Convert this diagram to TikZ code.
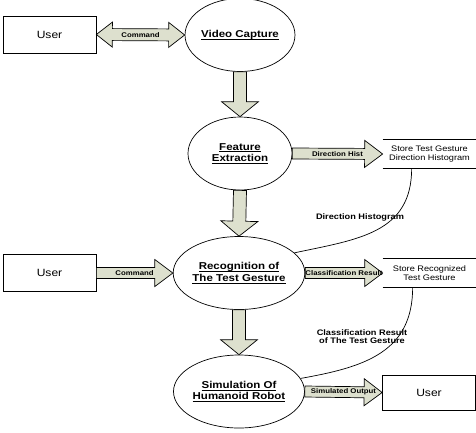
\documentclass[tikz,border=0pt]{standalone}
\usepackage{fontspec}
\setmainfont[FakeStretch=1.15,BoldFeatures={FakeStretch=1.15}]{Liberation Sans}
\usetikzlibrary{shapes.geometric,calc}

\definecolor{arrowfill}{RGB}{221,224,206}

% underline drawn as a rule, a bit heavier than \underline
\newcommand{\ulword}[1]{\setbox0\hbox{#1}\rlap{\rule[-2.2pt]{\wd0}{0.8pt}}\box0}

\tikzset{
	fat body/.initial=5.5,
	fat head/.initial=13.5,
	fat tip/.initial=18,
	wide head/.style={fat body=6.5,fat head=18.5,fat tip=15},
	fat arrow/.style={draw=black,fill=arrowfill,
		to path={let \p1=(\tikztostart),\p2=(\tikztotarget),
			\n1={veclen(\x2-\x1,\y2-\y1)},\n2={atan2(\y2-\y1,\x2-\x1)},
			\n3={\pgfkeysvalueof{/tikz/fat body}},\n4={\pgfkeysvalueof{/tikz/fat head}},
			\n5={\pgfkeysvalueof{/tikz/fat tip}} in
			{[shift={(\p1)},rotate=\n2]
			(0,\n3) -- ({\n1-\n5},\n3) -- ({\n1-\n5},\n4) -- (\n1,0)
			-- ({\n1-\n5},-\n4) -- ({\n1-\n5},-\n3) -- (0,-\n3) -- cycle}}},
	fat double/.style={draw=black,fill=arrowfill,
		to path={let \p1=(\tikztostart),\p2=(\tikztotarget),
			\n1={veclen(\x2-\x1,\y2-\y1)},\n2={atan2(\y2-\y1,\x2-\x1)},
			\n3={\pgfkeysvalueof{/tikz/fat body}},\n4={\pgfkeysvalueof{/tikz/fat head}},
			\n5={\pgfkeysvalueof{/tikz/fat tip}} in
			{[shift={(\p1)},rotate=\n2]
			(0,0) -- (\n5,\n4) -- (\n5,\n3) -- ({\n1-\n5},\n3) -- ({\n1-\n5},\n4) -- (\n1,0)
			-- ({\n1-\n5},-\n4) -- ({\n1-\n5},-\n3) -- (\n5,-\n3) -- (\n5,-\n4) -- cycle}}},
	process/.style={draw,ellipse,minimum width=104pt,minimum height=73pt,inner sep=0pt,
		align=center,font=\bfseries\fontsize{10}{11.5}\selectfont},
	entity/.style={draw,rectangle,minimum width=93pt,minimum height=37pt,
		font=\fontsize{10.5}{12}\selectfont},
	store/.style={minimum width=93pt,minimum height=28pt,inner sep=0pt,align=center,
		font=\fontsize{8}{8.5}\selectfont,
		append after command={(\tikzlastnode.north west) edge (\tikzlastnode.north east)
			(\tikzlastnode.south west) edge (\tikzlastnode.south east)}},
	flowlbl/.style={inner sep=0pt,font=\bfseries\fontsize{6.8}{8}\selectfont},
	datalbl/.style={inner sep=0pt,align=center,font=\bfseries\fontsize{8}{8.5}\selectfont}
}

\begin{document}
\begin{tikzpicture}[x=1pt,y=-1pt,line width=0.7pt]
	\useasboundingbox (0,0) rectangle (476,432);

	% processes
	\node[process] (vidcap) at (240,35) {\ulword{Video Capture}};
	\node[process] (featext) at (240,153.5) {\ulword{Feature}\\\ulword{Extraction}};
	\node[process] (recog) at (239,273) {\ulword{Recognition of}\\\ulword{The Test Gesture}};
	\node[process] (simrob) at (239,391.5) {\ulword{Simulation Of}\\\ulword{Humanoid Robot}};

	% external users
	\node[entity] (usrtop) at (49.5,34.5) {User};
	\node[entity] (usrmid) at (49.5,273) {User};
	\node[entity,minimum height=35pt] (usrbot) at (429,392.5) {User};

	% data stores
	\node[store] (storehist) at (429.5,154) {Store Test Gesture\\Direction Histogram};
	\node[store] (storerec) at (429.5,273) {Store Recognized\\Test Gesture};

	% flows
	\path (usrtop.east) edge[fat double,fat body=6,fat head=12.5,fat tip=16] (vidcap.west)
		-- node[flowlbl] {Command} (vidcap.west);
	\path (vidcap.south) edge[fat arrow,wide head] (featext.north);
	\path (featext.east) edge[fat arrow] (storehist.west)
		-- node[flowlbl] {Direction Hist} (storehist.west);
	\path (featext.south) edge[fat arrow,wide head] (recog.north);
	\path (usrmid.east) edge[fat arrow] (recog.west)
		-- node[flowlbl] {Command} (recog.west);
	\path (recog.east) edge[fat arrow] (storerec.west)
		-- node[flowlbl] {Classification Result} (storerec.west);
	\path (recog.south) edge[fat arrow,wide head] (simrob.north);
	\path (simrob.east) edge[fat arrow] (usrbot.west)
		-- node[flowlbl] {Simulated Output} (usrbot.west);

	% reads from the stores
	\draw ([xshift=29pt]storehist.south west) to[out=-90,in=12,looseness=1.15] (recog.20);
	\draw ([xshift=30pt]storerec.south west) to[out=-90,in=10,looseness=1.15] (simrob.12);
	\node[datalbl] (lblhist) at (360,217) {Direction Histogram};
	\node[datalbl] (lblclass) at (362,336.5) {Classification Result\\of The Test Gesture};
\end{tikzpicture}
\end{document}
